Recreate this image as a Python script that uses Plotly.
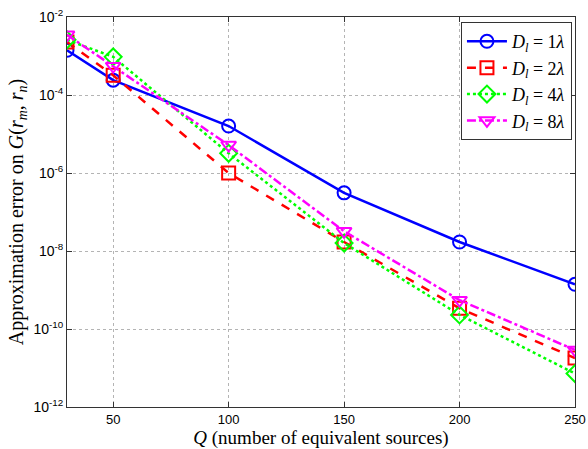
import plotly.graph_objects as go

Q = [30, 50, 100, 150, 200, 250]
err_D1 = [1.4e-3, 2.4e-4, 1.6e-5, 3.1e-7, 1.7e-8, 1.4e-9]
err_D2 = [2.3e-3, 3.2e-4, 1.0e-6, 1.7e-8, 3.4e-10, 1.8e-11]
err_D4 = [2.6e-3, 9.5e-4, 3.2e-6, 1.6e-8, 2.3e-10, 7.2e-12]
err_D8 = [3.5e-3, 5.5e-4, 5.2e-6, 3.2e-8, 5.5e-10, 2.9e-11]
labels = ["<i>D<sub>l</sub></i> = 1<i>λ</i>", "<i>D<sub>l</sub></i> = 2<i>λ</i>",
          "<i>D<sub>l</sub></i> = 4<i>λ</i>", "<i>D<sub>l</sub></i> = 8<i>λ</i>"]
xticks = [50, 100, 150, 200, 250]
yticks = [1e-12, 1e-10, 1e-8, 1e-6, 1e-4, 1e-2]
yticktext = ["10<sup>-12</sup>", "10<sup>-10</sup>", "10<sup>-8</sup>", "10<sup>-6</sup>",
             "10<sup>-4</sup>", "10<sup>-2</sup>"]

series = [
    (err_D1, "#0000FF", "solid", "circle-open"),
    (err_D2, "#FF0000", "dash", "square-open"),
    (err_D4, "#00FF00", "dot", "diamond-open"),
    (err_D8, "#FF00FF", "dashdot", "triangle-down-open"),
]

fig = go.Figure()
for (vals, color, dash, sym), name in zip(series, labels):
    fig.add_trace(go.Scatter(
        x=Q, y=vals, name=name, mode="lines+markers",
        line=dict(color=color, width=2.5, dash=dash),
        marker=dict(symbol=sym, size=13, color=color, line=dict(width=2, color=color)),
    ))

serif = "Liberation Serif, Times New Roman, serif"
axis_common = dict(showline=True, linecolor="#333333", linewidth=1, mirror="ticks",
                   ticks="inside", ticklen=5, tickcolor="#333333",
                   showgrid=True, gridcolor="#b4b4b4", griddash="dot", gridwidth=1,
                   zeroline=False, automargin=False,
                   tickfont=dict(family="Liberation Sans, Arial", size=14, color="#000"))

fig.update_xaxes(range=[30, 250], tickvals=xticks,
                 title=dict(text="<i>Q</i> (number of equivalent sources)",
                            font=dict(family=serif, size=19, color="#000"),
                            standoff=3),
                 **axis_common)
fig.update_xaxes(tickfont=dict(size=13))
fig.update_yaxes(type="log", range=[-12, -2], tickvals=yticks, ticktext=yticktext,
                 title=dict(text="Approximation error on <i>G</i>(<i>r<sub>m</sub></i>, <i>r<sub>n</sub></i>)",
                            font=dict(family=serif, size=20, color="#000"),
                            standoff=4),
                 **axis_common)

fig.update_layout(
    width=588, height=449,
    margin=dict(l=67, r=13, t=17, b=42),
    paper_bgcolor="white", plot_bgcolor="white",
    showlegend=True,
    legend=dict(x=0.994, y=0.987, xanchor="right", yanchor="top",
                bgcolor="white", bordercolor="#333333", borderwidth=1,
                font=dict(family=serif, size=18, color="#000"),
                tracegroupgap=0, itemwidth=40),
)

fig.write_html("out.html", config={"displayModeBar": False},
               post_script="document.body.style.margin='0';document.body.style.overflow='hidden';")
